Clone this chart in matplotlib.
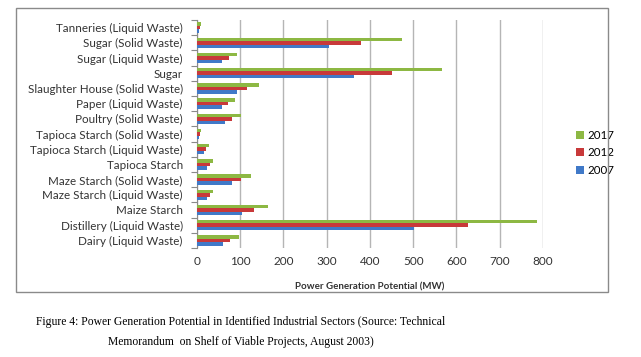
import numpy as np
import matplotlib
matplotlib.use('Agg')
import matplotlib.pyplot as plt
from matplotlib.patches import Rectangle

# data, listed top to bottom as in the chart
sectors = [
    'Tanneries (Liquid Waste)', 'Sugar (Solid Waste)', 'Sugar (Liquid Waste)',
    'Sugar', 'Slaughter House (Solid Waste)', 'Paper (Liquid Waste)',
    'Poultry (Solid Waste)', 'Tapioca Starch (Solid Waste)',
    'Tapioca Starch (Liquid Waste)', 'Tapioca Starch', 'Maze Starch (Solid Waste)',
    'Maze Starch (Liquid Waste)', 'Maize Starch', 'Distillery (Liquid Waste)',
    'Dairy (Liquid Waste)',
]
mw_2017 = [10, 475, 92, 567, 145, 89, 102, 10, 28, 37, 126, 37, 164, 785, 97]
mw_2012 = [8, 379, 74, 452, 117, 72, 81, 8, 22, 31, 102, 31, 132, 627, 76]
mw_2007 = [6, 305, 59, 363, 94, 58, 65, 6, 18, 23, 81, 23, 105, 502, 60]

C_17 = '#8DB843'
C_12 = '#C8393A'
C_07 = '#4079C8'

plt.rcParams['font.family'] = ['Lato', 'DejaVu Sans']

fig = plt.figure(figsize=(6.41, 3.57), dpi=100)
W, H = 641, 357

# chart frame
fig.patches.append(Rectangle((16 / W, 1 - 292 / H), (608 - 16) / W, (292 - 8) / H,
                             transform=fig.transFigure, fill=False,
                             edgecolor='#8a8a8a', linewidth=1.0))

ax = fig.add_axes([196.7 / W, 1 - 248 / H, (543 - 196.7) / W, (248 - 20) / H])

y = np.arange(len(sectors))
h = 0.23
ax.barh(y + h, mw_2007, height=h, color=C_07, label='2007', zorder=3)
ax.barh(y, mw_2012, height=h, color=C_12, label='2012', zorder=3)
ax.barh(y - h, mw_2017, height=h, color=C_17, label='2017', zorder=3)

ax.set_ylim(len(sectors) - 0.5, -0.5)
ax.set_xlim(0, 800)
ax.set_xticks(np.arange(0, 801, 100))
ax.set_yticks(y)
ax.set_yticklabels(sectors, fontsize=8.4, color='#333333')
ax.set_yticks(np.arange(-0.5, len(sectors), 1), minor=True)
ax.tick_params(axis='y', which='major', length=0, pad=10)
ax.tick_params(axis='y', which='minor', length=4, color='#8a8a8a', width=0.8)
ax.tick_params(axis='x', length=0, labelsize=8.5, labelcolor='#333333', pad=6)

ax.grid(axis='x', color='#b5b5b5', linewidth=1.0, zorder=0)
for s in ['top', 'right', 'bottom']:
    ax.spines[s].set_visible(False)
ax.spines['left'].set_color('#8a8a8a')
ax.spines['left'].set_linewidth(0.8)

ax.set_xlabel('Power Generation Potential (MW)', fontsize=7, fontweight='bold',
              color='#333333', labelpad=11)

handles, labels = ax.get_legend_handles_labels()
ax.legend(handles[::-1], labels[::-1], loc='center left', bbox_to_anchor=(566 / W, 1 - 153 / H),
          bbox_transform=fig.transFigure, frameon=False, fontsize=8.3,
          handlelength=0.7, handleheight=0.7, handletextpad=0.3, labelspacing=0.6)

fig.text(241 / W, 1 - 322 / H,
         'Figure 4: Power Generation Potential in Identified Industrial Sectors (Source: Technical',
         ha='center', va='center', fontsize=8.4, family='Liberation Serif')
fig.text(241 / W, 1 - 342 / H,
         'Memorandum  on Shelf of Viable Projects, August 2003)',
         ha='center', va='center', fontsize=8.4, family='Liberation Serif')

fig.savefig('out.png', dpi=100, facecolor='white')
